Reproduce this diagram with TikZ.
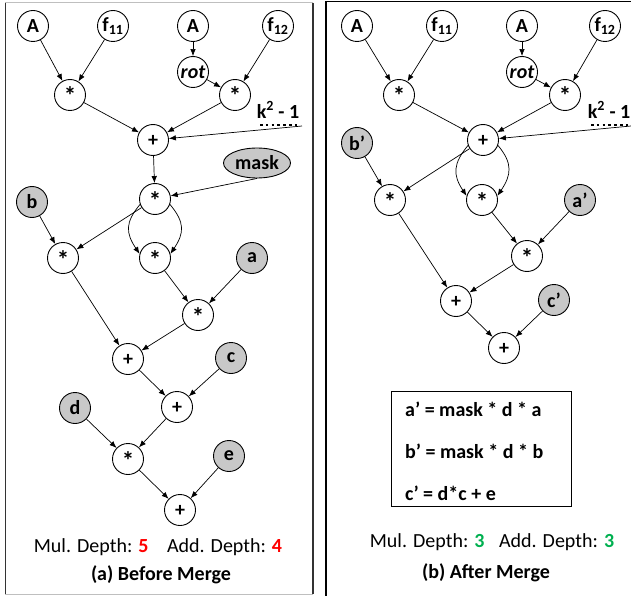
\documentclass[tikz,border=0pt]{standalone}
\usepackage{fontspec}
\setmainfont{Carlito}
\usetikzlibrary{arrows.meta,shapes.geometric}
\definecolor{nodegray}{RGB}{200,200,200}
\definecolor{dgreen}{RGB}{0,176,80}
\newcommand{\astx}{\smash{\raisebox{-0.5em}{\scalebox{1.25}{*}}}}
\newcommand{\plusx}{\smash{\raisebox{-0.3em}{+}}}
\tikzset{
  op/.style={circle, draw, line width=0.9pt, minimum size=31pt, inner sep=0pt, font=\fontsize{20}{24}\selectfont\bfseries, fill=white},
  inp/.style={op, fill=nodegray},
  arr/.style={-{Latex[length=7pt,width=5.5pt]}, line width=0.7pt},
  lbl/.style={font=\fontsize{20}{24}\selectfont\bfseries, inner sep=0pt},
  txt/.style={font=\fontsize{20}{24}\selectfont, inner sep=0pt},
}
\begin{document}
\begin{tikzpicture}[x=1pt,y=1pt]
\useasboundingbox (0,0) rectangle (631,-596);
% frames
\draw[gray!50, line width=1pt] (5,-3) -- (313,-3);
\draw[gray!50, line width=1pt] (5,-594) -- (313,-594);
\draw[black!80, line width=1.3pt] (5.5,-3) -- (5.5,-594);
\draw[black!80, line width=1.3pt] (313,-3) -- (313,-594);
\draw[black, line width=1.3pt] (326,-596) -- (326,-1.5) -- (631,-1.5);

% ===== left panel =====
\node[op] (A1) at (33,-26) {A};
\node[op] (f11) at (113,-26) {f\textsubscript{11}};
\node[op] (A2) at (193,-26) {A};
\node[op] (f12) at (278,-26) {f\textsubscript{12}};
\node[op, font=\fontsize{20}{24}\selectfont\bfseries\itshape] (rot) at (193,-72) {rot};
\node[op] (m1) at (70,-95) {\astx};
\node[op] (m2) at (235,-95) {\astx};
\node[op] (p1) at (153,-140) {\plusx};
\node[lbl] (k1) at (278,-110) {k\textsuperscript{2} - 1};
\draw[line width=2pt, dash pattern=on 2.5pt off 3.3pt] (260,-125) -- (297,-125);
\coordinate (kk1) at (302,-126);
\node[ellipse, draw, line width=0.9pt, fill=nodegray, minimum width=67pt, minimum height=30pt, inner sep=0pt, font=\fontsize{20}{24}\selectfont\bfseries] (mask) at (257,-163) {mask};
\node[op] (m3) at (155,-199) {\astx};
\node[inp] (b) at (32,-202) {b};
\node[op] (m4) at (63,-258) {\astx};
\node[op] (m5) at (155,-258) {\astx};
\node[inp] (a) at (252,-258) {a};
\node[op] (m6) at (198,-315) {\astx};
\node[op] (p2) at (128,-359) {\plusx};
\node[inp] (c) at (231,-358) {c};
\node[op] (p3) at (177,-407) {\plusx};
\node[inp] (d) at (75,-408) {d};
\node[op] (m7) at (128,-459) {\astx};
\node[inp] (e) at (229,-456) {e};
\node[op] (p4) at (180,-510) {\plusx};
\node[txt] (t1) at (158,-547) {Mul. Depth: \textbf{\color{red}5}\hspace{0.7em} Add. Depth: \textbf{\color{red}4}};
\node[lbl] (t2) at (161,-575) {(a) Before Merge};

\draw[arr] (A1) -- (m1);
\draw[arr] (f11) -- (m1);
\draw[arr] (A2) -- (rot);
\draw[arr] (rot) -- (m2);
\draw[arr] (f12) -- (m2);
\draw[arr] (m1) -- (p1);
\draw[arr] (m2) -- (p1);
\draw[arr] (kk1) -- (p1);
\draw[arr] (p1) -- (m3);
\draw[arr] (mask.south) -- (m3);
\draw[arr] (m3) -- (m4);
\draw[arr] (b) -- (m4);
\draw[arr] (m3.200) .. controls +(-15,-18) and +(-14,21) .. (m5.165);
\draw[arr] (m3.-20) .. controls +(15,-18) and +(14,21) .. (m5.15);
\draw[arr] (m5) -- (m6);
\draw[arr] (a) -- (m6);
\draw[arr] (m4) -- (p2);
\draw[arr] (m6) -- (p2);
\draw[arr] (p2) -- (p3);
\draw[arr] (c) -- (p3);
\draw[arr] (d) -- (m7);
\draw[arr] (p3) -- (m7);
\draw[arr] (m7) -- (p4);
\draw[arr] (e) -- (p4);

% ===== right panel =====
\node[op] (RA1) at (357,-26) {A};
\node[op] (Rf11) at (442,-26) {f\textsubscript{11}};
\node[op] (RA2) at (522,-26) {A};
\node[op] (Rf12) at (605,-26) {f\textsubscript{12}};
\node[op, font=\fontsize{20}{24}\selectfont\bfseries\itshape] (Rrot) at (522,-72) {rot};
\node[op] (Rm1) at (399,-95) {\astx};
\node[op] (Rm2) at (565,-95) {\astx};
\node[op] (Rp1) at (483,-140) {\plusx};
\node[lbl, anchor=east] (k2) at (630.5,-110) {k\textsuperscript{2} - 1};
\draw[line width=2pt, dash pattern=on 2.5pt off 3.3pt] (591,-125) -- (629,-125);
\coordinate (kk2) at (631,-126);
\node[inp] (Rb) at (357,-143) {b’};
\node[op] (Rm4) at (390,-200) {\astx};
\node[op] (Rm5) at (482,-200) {\astx};
\node[inp] (Ra) at (580,-200) {a’};
\node[op] (Rm6) at (527,-256) {\astx};
\node[op] (Rp2) at (456,-301) {\plusx};
\node[inp] (Rc) at (554,-300) {c’};
\node[op] (Rp3) at (504,-348) {\plusx};

\node[draw, line width=0.9pt, minimum width=180pt, minimum height=115pt, inner sep=0pt] (box) at (481,-448.5) {};
\node[lbl, anchor=west] (e1) at (405,-409) {a’ = mask * d * a};
\node[lbl, anchor=west] (e2) at (405,-451) {b’ = mask * d * b};
\node[lbl, anchor=west] (e3) at (405,-493) {c’ = d*c + e};
\node[txt] (t3) at (492,-542) {Mul. Depth: \textbf{\color{dgreen}3}\hspace{0.5em} Add. Depth: \textbf{\color{dgreen}3}};
\node[lbl] (t4) at (486,-573) {(b) After Merge};

\draw[arr] (RA1) -- (Rm1);
\draw[arr] (Rf11) -- (Rm1);
\draw[arr] (RA2) -- (Rrot);
\draw[arr] (Rrot) -- (Rm2);
\draw[arr] (Rf12) -- (Rm2);
\draw[arr] (Rm1) -- (Rp1);
\draw[arr] (Rm2) -- (Rp1);
\draw[arr] (kk2) -- (Rp1);
\draw[arr] (Rp1) -- (Rm4);
\draw[arr] (Rb) -- (Rm4);
\draw[arr] (Rp1.200) .. controls +(-15,-18) and +(-14,21) .. (Rm5.165);
\draw[arr] (Rp1.-20) .. controls +(15,-18) and +(14,21) .. (Rm5.15);
\draw[arr] (Rm5) -- (Rm6);
\draw[arr] (Ra) -- (Rm6);
\draw[arr] (Rm4) -- (Rp2);
\draw[arr] (Rm6) -- (Rp2);
\draw[arr] (Rp2) -- (Rp3);
\draw[arr] (Rc) -- (Rp3);
\end{tikzpicture}
\end{document}
